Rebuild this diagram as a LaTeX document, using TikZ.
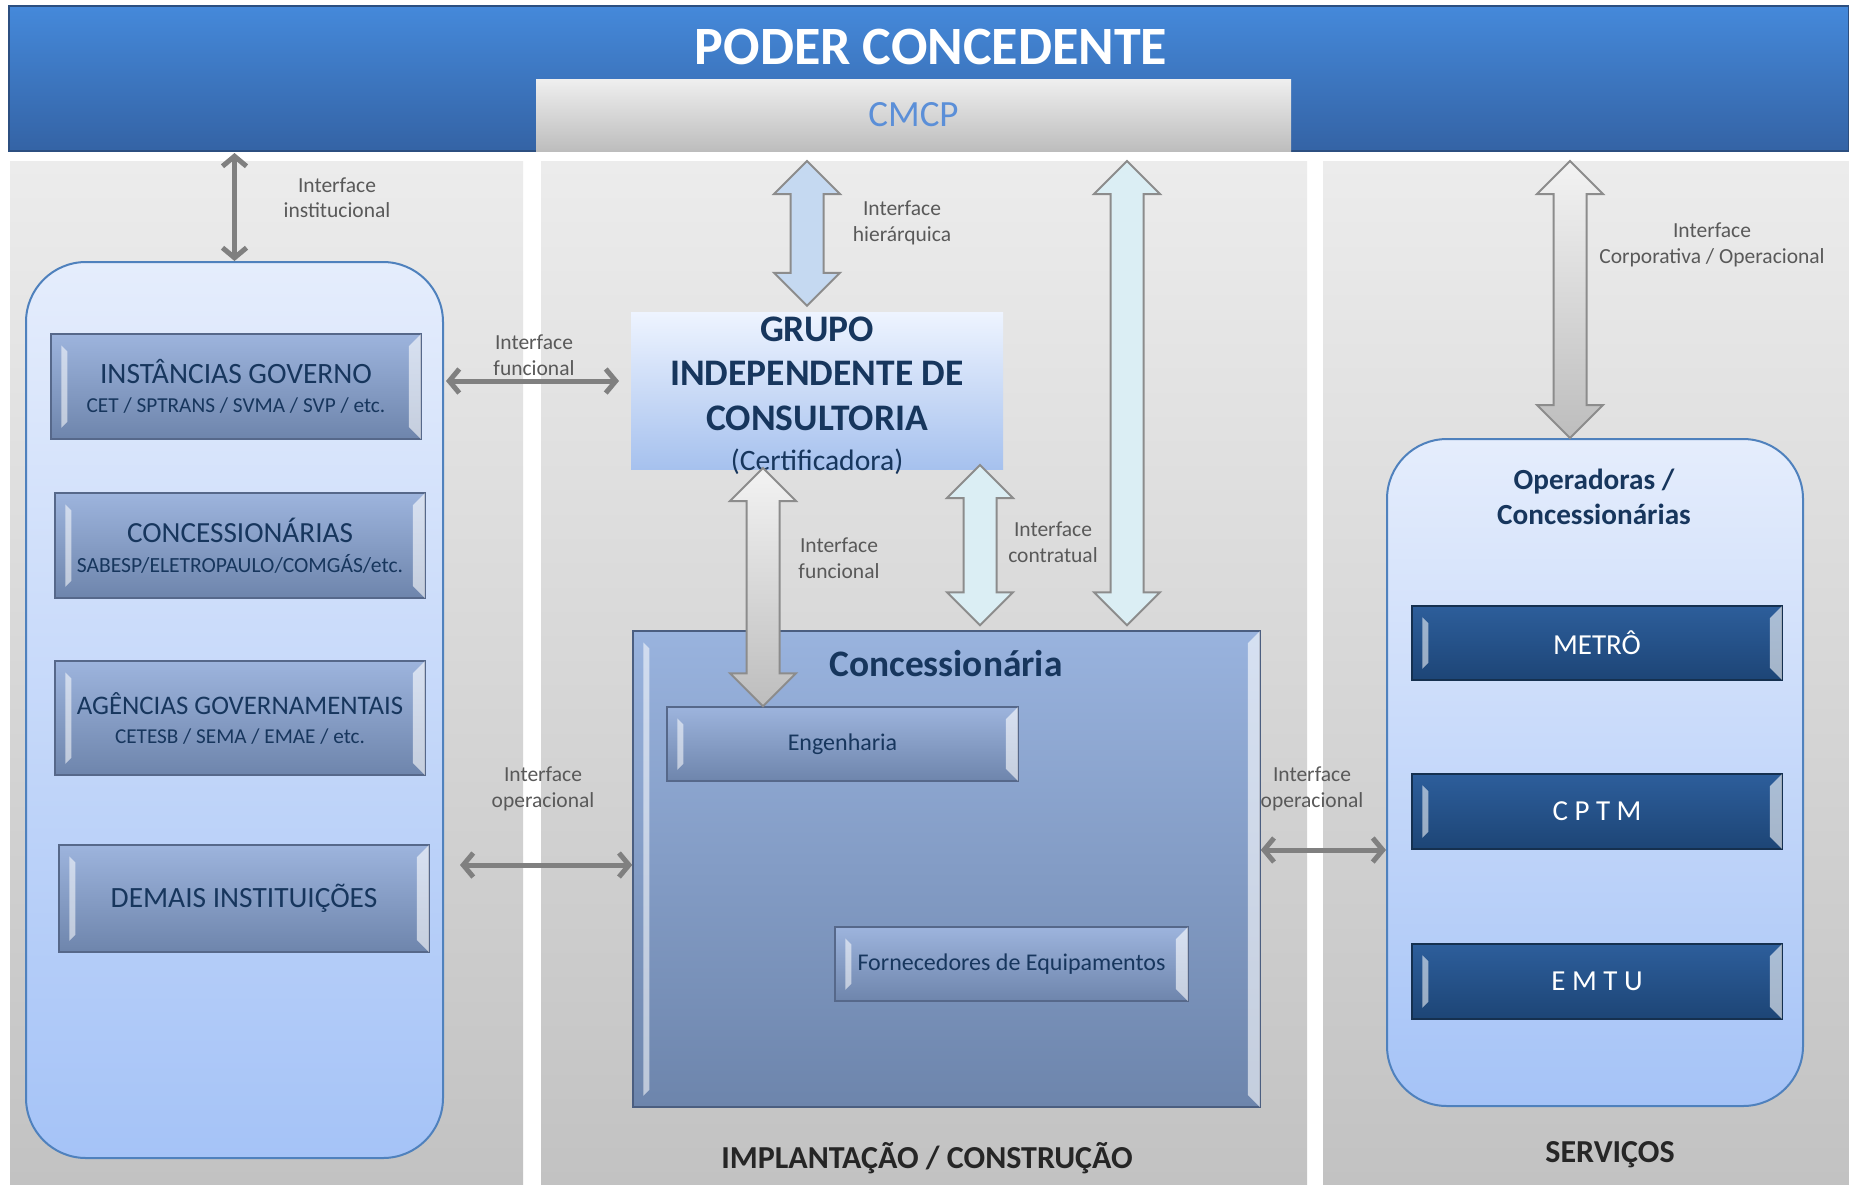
\documentclass[tikz,border=0pt]{standalone}
\usepackage{fontspec}
\setmainfont{Carlito}
\usetikzlibrary{arrows.meta,calc}

\definecolor{barTop}{HTML}{4589DA}
\definecolor{barBot}{HTML}{3463A5}
\definecolor{barEdge}{HTML}{2C4F80}
\definecolor{cmcpTop}{HTML}{EFEFEF}
\definecolor{cmcpBot}{HTML}{BDBDBD}
\definecolor{cmcpText}{HTML}{5B8FD8}
\definecolor{colTop}{HTML}{ECECEC}
\definecolor{colBot}{HTML}{C2C2C2}
\definecolor{paleTop}{HTML}{E5EDFC}
\definecolor{paleBot}{HTML}{A5C3F7}
\definecolor{paleEdge}{HTML}{4F81BD}
\definecolor{btnTop}{HTML}{9DB4DD}
\definecolor{btnBot}{HTML}{6E85AC}
\definecolor{btnEdge}{HTML}{56688A}
\definecolor{concTop}{HTML}{99B3DE}
\definecolor{concBot}{HTML}{6D85AC}
\definecolor{concEdge}{HTML}{4B5E80}
\definecolor{navy}{HTML}{17365D}
\definecolor{grpTop}{HTML}{EEF4FF}
\definecolor{grpBot}{HTML}{A6C1EE}
\definecolor{darkTop}{HTML}{2D5E9B}
\definecolor{darkBot}{HTML}{1D4576}
\definecolor{darkEdge}{HTML}{15304F}
\definecolor{hierFill}{HTML}{C5D9F1}
\definecolor{contrFill}{HTML}{DBEEF4}
\definecolor{arrowEdge}{HTML}{8C8C8C}
\definecolor{greyTop}{HTML}{F3F3F3}
\definecolor{greyBot}{HTML}{BDBDBD}
\definecolor{lineGrey}{HTML}{808080}
\definecolor{lblGrey}{HTML}{595959}

% light edges of the bevelled buttons
\newcommand{\btnbevel}[1]{%
  \fill[white,opacity=0.55] ([shift={(11pt,-12pt)}]#1.north west) -- ([shift={(17pt,-18pt)}]#1.north west)
    -- ([shift={(17pt,18pt)}]#1.south west) -- ([shift={(11pt,12pt)}]#1.south west) -- cycle;
  \fill[white,opacity=0.6] ([shift={(-1pt,-1pt)}]#1.north east) -- ([shift={(-13pt,-13pt)}]#1.north east)
    -- ([shift={(-13pt,13pt)}]#1.south east) -- ([shift={(-1pt,1pt)}]#1.south east) -- cycle;}

\tikzset{
  panel/.style={rectangle,top color=colTop,bottom color=colBot,minimum height=1023pt,inner sep=0pt},
  palebox/.style={rectangle,rounded corners=60pt,draw=paleEdge,line width=2pt,top color=paleTop,bottom color=paleBot,inner sep=0pt},
  button/.style={rectangle,draw=btnEdge,line width=1.5pt,top color=btnTop,bottom color=btnBot,text=navy,align=center,inner sep=0pt,minimum width=370pt},
  darkbutton/.style={button,draw=darkEdge,top color=darkTop,bottom color=darkBot,text=white},
  iflabel/.style={text=lblGrey,align=center,font=\fontsize{21.5}{25.5}\selectfont},
  linearrow/.style={draw=lineGrey,line width=5pt,>={Straight Barb[length=10pt,width=24pt]},<->},
  blockarrow/.style={draw=arrowEdge,line width=2pt,
    to path={let \p1=(\tikztostart), \p2=(\tikztotarget) in
      (\x1,\y1) -- (\x1+33pt,\y1-33pt) -- (\x1+16.5pt,\y1-33pt) -- (\x1+16.5pt,\y2+33pt)
      -- (\x1+33pt,\y2+33pt) -- (\x1,\y2) -- (\x1-33pt,\y2+33pt) -- (\x1-16.5pt,\y2+33pt)
      -- (\x1-16.5pt,\y1-33pt) -- (\x1-33pt,\y1-33pt) -- cycle}},
}

\begin{document}
\begin{tikzpicture}[x=1pt,y=-1pt]
  \useasboundingbox (0,0) rectangle (1849,1184);
  \fill[white] (0,0) rectangle (1849,1184);

  % columns
  \node[panel,minimum width=513pt] (colL) at (266.5,672.5) {};
  \node[panel,minimum width=766pt] (colM) at (924,672.5) {};
  \node[panel,minimum width=526pt] (colR) at (1586,672.5) {};

  % poder concedente
  \node[rectangle,top color=barTop,bottom color=barBot,draw=barEdge,line width=1.5pt,minimum width=1840pt,minimum height=145pt] (topbar) at (929,78.5) {};
  \node[text=white,font=\bfseries\fontsize{54}{60}\selectfont] (title) at (931,47) {PODER CONCEDENTE};
  \node[rectangle,top color=cmcpTop,bottom color=cmcpBot,minimum width=755pt,minimum height=72pt,text=cmcpText,font=\fontsize{37}{40}\selectfont] (cmcp) at (913.5,115) {CMCP};

  % left column
  \node[palebox,minimum width=417pt,minimum height=896pt] (lbox) at (234.5,710) {};
  \node[button,minimum height=105pt,font=\fontsize{29.5}{29}\selectfont] (gov) at (236,386.5) {INSTÂNCIAS GOVERNO\\{\fontsize{21.3}{29}\selectfont CET / SPTRANS / SVMA / SVP / etc.}};
  \node[button,minimum height=105pt,font=\fontsize{29.2}{30}\selectfont] (conces) at (240,545.5) {CONCESSIONÁRIAS\\{\fontsize{21.6}{30}\selectfont SABESP/ELETROPAULO/COMGÁS/etc.}};
  \node[button,minimum height=114pt,font=\fontsize{26.8}{29}\selectfont] (agen) at (240,718) {AGÊNCIAS GOVERNAMENTAIS\\{\fontsize{21.2}{29}\selectfont CETESB / SEMA / EMAE / etc.}};
  \node[button,minimum height=107pt,font=\fontsize{29.4}{30}\selectfont] (demais) at (244,898.5) {DEMAIS INSTITUIÇÕES};

  % middle column
  \node[rectangle,top color=grpTop,bottom color=grpBot,minimum width=372pt,minimum height=157pt,inner sep=0pt] (grupo) at (817,390.5) {};
  \node[text=navy,align=center,inner sep=0pt,font=\bfseries\fontsize{37.5}{44.5}\selectfont] (grupoTxt) at (817,395.5) {GRUPO\\INDEPENDENTE DE\\CONSULTORIA\\[-4pt]{\mdseries\fontsize{29.6}{40}\selectfont(Certificadora)}};
  \node[rectangle,draw=concEdge,line width=1.5pt,top color=concTop,bottom color=concBot,minimum width=627pt,minimum height=476pt] (conc) at (946.5,869) {};
  \node[text=navy,font=\bfseries\fontsize{37.4}{40}\selectfont] (concTitle) at (946,664) {Concessionária};
  \node[button,minimum width=351pt,minimum height=74pt,font=\fontsize{24}{27}\selectfont] (eng) at (842.5,744) {Engenharia};
  \node[button,minimum width=353pt,minimum height=74pt,font=\fontsize{24}{27}\selectfont] (forn) at (1011.5,964) {Fornecedores de Equipamentos};

  % right column
  \node[palebox,minimum width=416pt,minimum height=667pt] (rbox) at (1595,772.5) {};
  \node[text=navy,align=center,font=\bfseries\fontsize{29.2}{35}\selectfont] (oper) at (1594,496.5) {Operadoras /\\Concessionárias};
  \node[darkbutton,minimum height=74pt,font=\fontsize{29}{30}\selectfont] (metro) at (1597,643) {METRÔ};
  \node[darkbutton,minimum height=75pt,font=\fontsize{29}{30}\selectfont] (cptm) at (1597,811.5) {C P T M};
  \node[darkbutton,minimum height=75pt,font=\fontsize{29}{30}\selectfont] (emtu) at (1597,981.5) {E M T U};

  \foreach \b in {gov,conces,agen,demais,eng,forn,conc,metro,cptm,emtu} {\btnbevel{\b}}

  % footers
  \node[text=black!85,font=\bfseries\fontsize{32}{34}\selectfont] (lblImpl) at (927,1158) {IMPLANTAÇÃO / CONSTRUÇÃO};
  \node[text=black!85,font=\bfseries\fontsize{32}{34}\selectfont] (lblServ) at (1610,1155) {SERVIÇOS};

  % block arrows
  \coordinate (hierTop) at (807,161);
  \coordinate (hierBot) at ([yshift=6pt]grupo.north);
  \coordinate (funcTop) at (763,468);
  \coordinate (contrTop) at (980,465);
  \coordinate (tallTop) at (1127,161);
  \coordinate (concTop) at ([yshift=5pt]conc.north);
  \coordinate (corpTop) at (1570,161);
  \draw[blockarrow,fill=hierFill] (hierTop) to (hierBot);
  \draw[blockarrow,top color=greyTop,bottom color=greyBot] (funcTop) to (eng.north);
  \draw[blockarrow,fill=contrFill] (contrTop) to (concTop);
  \draw[blockarrow,fill=contrFill] (tallTop) to (concTop);
  \draw[blockarrow,top color=greyTop,bottom color=greyBot] (corpTop) to (rbox.north);

  % line arrows
  \coordinate (instTop) at (234.5,153);
  \coordinate (funcL) at (446,381);
  \coordinate (funcR) at (619,381);
  \coordinate (opL) at (460,865);
  \coordinate (opR) at (1320,850);
  \draw[linearrow] (instTop) -- (lbox.north);
  \draw[linearrow] (funcL) -- (funcR);
  \draw[linearrow] (opL) -- (opL -| conc.west);
  \draw[linearrow] (conc.east |- opR) -- (rbox.west |- opR);

  % interface labels
  \node[iflabel] (lblInst) at (337,197.5) {Interface\\institucional};
  \node[iflabel] (lblHier) at (902,223) {Interface\\hierárquica};
  \node[iflabel] (lblFuncH) at (534,355) {Interface\\funcional};
  \node[iflabel] (lblFuncV) at (839,558) {Interface\\funcional};
  \node[iflabel] (lblContr) at (1053,542) {Interface\\contratual};
  \node[iflabel] (lblCorp) at (1712,245) {Interface\\Corporativa / Operacional};
  \node[iflabel] (lblOpL) at (543,789) {Interface\\operacional};
  \node[iflabel] (lblOpR) at (1312,789) {Interface\\operacional};
\end{tikzpicture}
\end{document}
